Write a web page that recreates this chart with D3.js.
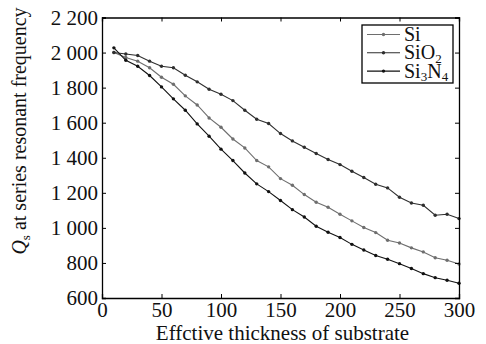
<!DOCTYPE html>
<html>
<head>
  <script src="https://d3js.org/d3.v7.min.js"></script>
  <style>
    body { margin: 0; background: #fff; }
  </style>
</head>
<body>
  <div id="chart"></div>
  <script>
    // thickness values (x)
    var thickness = d3.range(10, 301, 10);

    var siValues = [2000, 1972, 1951, 1913, 1859, 1819, 1753, 1701, 1627, 1574,
      1507, 1456, 1384, 1348, 1281, 1243, 1190, 1146, 1118, 1078,
      1040, 1002, 973, 929, 914, 886, 863, 830, 815, 794];
    var sio2Values = [2000, 1992, 1983, 1951, 1922, 1913, 1871, 1833, 1791, 1762,
      1726, 1671, 1620, 1595, 1538, 1496, 1460, 1424, 1390, 1361,
      1323, 1287, 1249, 1228, 1175, 1142, 1129, 1072, 1078, 1053];
    var si3n4Values = [2027, 1956, 1922, 1869, 1804, 1736, 1671, 1593, 1523, 1449,
      1384, 1313, 1251, 1207, 1156, 1104, 1062, 1009, 975, 945,
      906, 874, 842, 821, 796, 768, 739, 716, 701, 684];

    var seriesNames = ["Si", "SiO2", "Si3N4"];
    var seriesColors = ["#6e6e6e", "#2e2e2e", "#111111"];
    var xTicks = [0, 50, 100, 150, 200, 250, 300];
    var yTicks = [600, 800, 1000, 1200, 1400, 1600, 1800, 2000, 2200];

    var width = 486, height = 344;
    var margin = {top: 17.5, right: 27, bottom: 46, left: 102};
    var serif = "'Liberation Serif'";
    var fs = "21px";

    var svg = d3.select("#chart").append("svg")
      .attr("width", width)
      .attr("height", height);

    var x = d3.scaleLinear().domain([0, 300]).range([margin.left, width - margin.right]);
    var y = d3.scaleLinear().domain([600, 2200]).range([height - margin.bottom, margin.top]);

    // "2 200" style thousands
    var fmt = function (d) { return d >= 1000 ? Math.floor(d / 1000) + " " + d3.format("03")(d % 1000) : String(d); };

    // series
    var allSeries = [siValues, sio2Values, si3n4Values];
    var line = d3.line()
      .x(function (d, i) { return x(thickness[i]); })
      .y(function (d) { return y(d); });

    allSeries.forEach(function (vals, k) {
      svg.append("path")
        .datum(vals)
        .attr("fill", "none")
        .attr("stroke", seriesColors[k])
        .attr("stroke-width", 1.1)
        .attr("d", line);
      svg.append("g").selectAll("circle")
        .data(vals)
        .enter().append("circle")
        .attr("cx", function (d, i) { return x(thickness[i]); })
        .attr("cy", function (d) { return y(d); })
        .attr("r", 1.7)
        .attr("fill", seriesColors[k]);
    });

    // axes, ticks pointing inward (box on all four sides)
    var tickLen = 4;
    svg.append("g")
      .attr("transform", "translate(0," + y(600) + ")")
      .call(d3.axisBottom(x).tickValues(xTicks).tickSize(-tickLen).tickPadding(4).tickFormat(d3.format("d")));
    svg.append("g")
      .attr("transform", "translate(0," + y(2200) + ")")
      .call(d3.axisTop(x).tickValues(xTicks).tickSize(-tickLen).tickFormat(""));
    svg.append("g")
      .attr("transform", "translate(" + x(0) + ",0)")
      .call(d3.axisLeft(y).tickValues(yTicks).tickSize(-tickLen).tickPadding(4).tickFormat(fmt));
    svg.append("g")
      .attr("transform", "translate(" + x(300) + ",0)")
      .call(d3.axisRight(y).tickValues(yTicks).tickSize(-tickLen).tickFormat(""));
    svg.selectAll(".tick text")
      .style("font-family", serif)
      .style("font-size", fs)
      .attr("fill", "#111");
    svg.selectAll(".domain").attr("stroke", "#000").attr("stroke-width", 1.3);
    svg.selectAll(".tick line").attr("stroke", "#000");

    // axis titles
    svg.append("text")
      .attr("x", (x(0) + x(300)) / 2 + 2)
      .attr("y", 340)
      .attr("text-anchor", "middle")
      .style("font-family", serif)
      .style("font-size", fs)
      .attr("fill", "#111")
      .text("Effctive thickness of substrate");

    var yt = svg.append("text")
      .attr("transform", "translate(26,131) rotate(-90)")
      .attr("text-anchor", "middle")
      .style("font-family", serif)
      .style("font-size", "20px")
      .attr("fill", "#111");
    yt.append("tspan").style("font-style", "italic").text("Q");
    yt.append("tspan").attr("dy", 4).style("font-size", "13px").text("s");
    yt.append("tspan").attr("dy", -4).text(" at series resonant frequency");

    // legend
    var lg = svg.append("g");
    lg.append("rect")
      .attr("x", 362).attr("y", 25).attr("width", 91).attr("height", 58)
      .attr("fill", "#fff").attr("stroke", "#000").attr("stroke-width", 1.3);
    var labels = [["Si"], ["SiO", "2"], ["Si", "3", "N", "4"]];
    seriesNames.forEach(function (name, k) {
      var ly = 34.5 + k * 18.3;
      lg.append("line")
        .attr("x1", 367).attr("x2", 400).attr("y1", ly).attr("y2", ly)
        .attr("stroke", seriesColors[k]).attr("stroke-width", 1.1);
      lg.append("circle").attr("cx", 383.5).attr("cy", ly).attr("r", 1.7).attr("fill", seriesColors[k]);
      var t = lg.append("text").attr("x", 404).attr("y", ly + 6.5)
        .style("font-family", serif).style("font-size", "20px").attr("fill", "#111");
      labels[k].forEach(function (part, j) {
        if (j % 2 === 0) {
          t.append("tspan").attr("dy", j === 0 ? 0 : -3.5).text(part);
        } else {
          t.append("tspan").attr("dy", 3.5).style("font-size", "13px").text(part);
        }
      });
    });
  </script>
</body>
</html>
